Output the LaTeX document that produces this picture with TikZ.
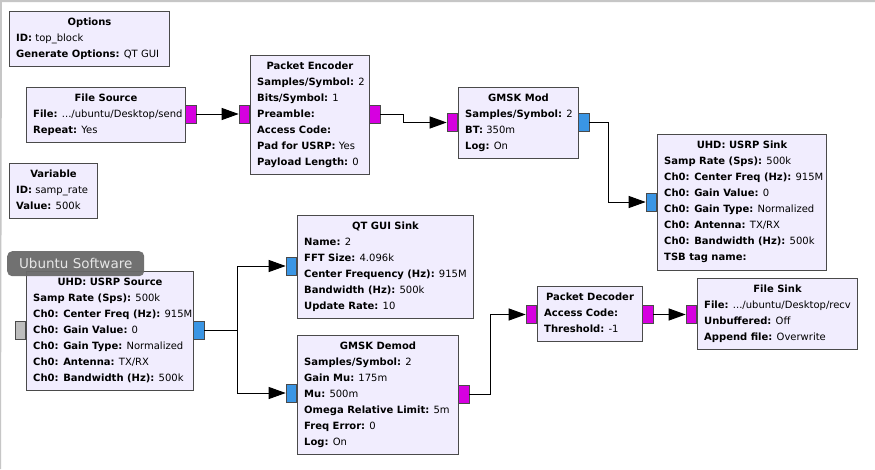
\documentclass[tikz,border=0pt]{standalone}
\usepackage{fontspec}
\setmainfont{DejaVu Sans}
\usetikzlibrary{arrows.meta,calc}
\definecolor{blkfill}{HTML}{F1EDFE}
\definecolor{blkline}{HTML}{4A4A4A}
\definecolor{pmag}{HTML}{D600E0}
\definecolor{pblue}{HTML}{3A95E4}
\definecolor{pgray}{HTML}{BDBDBD}
\definecolor{framegray}{HTML}{C6C6C6}
\definecolor{tipfill}{HTML}{6A6A6A}
\definecolor{tiptext}{HTML}{E6E6E6}
\newcount\lnum
\newcommand\grblk[6]{%
  \node[blk, minimum width=#4pt, minimum height=#5pt, anchor=north west] (#1) at (#2,#3) {};
  \node[txt, anchor=base, font=\bfseries] (#1-t) at ($(#1.north)+(0,14)$) {#6};
  \global\lnum=0 \gdef\curblk{#1}}
\newcommand\kv[2]{\global\advance\lnum by 1
  \node[txt, anchor=base west] (\curblk-\the\lnum) at ($(\curblk.north west)+(7,{14+16*\the\lnum})$) {\textbf{#1} #2};}
\begin{document}
\begin{tikzpicture}[x=1pt,y=-1pt,
  blk/.style={draw=blkline, fill=blkfill, line width=1pt, inner sep=0pt},
  txt/.style={inner sep=0pt, font=\fontsize{10}{16}\selectfont},
  port/.style={draw=blkline, line width=0.8pt, inner sep=0pt, minimum width=10.5pt, minimum height=18pt},
  wire/.style={draw=black, line width=1pt, -{Triangle[length=17pt,width=12pt]}}]
\useasboundingbox (0,0) rectangle (875,469);
\fill[white] (0,0) rectangle (875,469);
\draw[framegray, line width=2pt] (0,469) -- (1,1) -- (875,1);

% Options
\grblk{opt}{9}{11}{160}{55}{Options}
\kv{ID:}{top\_block}
\kv{Generate Options:}{QT GUI}

% File Source
\grblk{fsrc}{26}{87}{159}{55}{File Source}
\kv{File:}{.../ubuntu/Desktop/send}
\kv{Repeat:}{Yes}
\node[port, fill=pmag, anchor=west] (fsrc-o) at (185,114) {};

% Packet Encoder
\grblk{penc}{250}{55}{119}{119}{Packet Encoder}
\kv{Samples/Symbol:}{2}
\kv{Bits/Symbol:}{1}
\kv{Preamble:}{}
\kv{Access Code:}{}
\kv{Pad for USRP:}{Yes}
\kv{Payload Length:}{0}
\node[port, fill=pmag, anchor=east] (penc-i) at (250,114) {};
\node[port, fill=pmag, anchor=west] (penc-o) at (369,114) {};

% GMSK Mod
\grblk{gmod}{458}{87}{120}{71}{GMSK Mod}
\kv{Samples/Symbol:}{2}
\kv{BT:}{350m}
\kv{Log:}{On}
\node[port, fill=pmag, anchor=east] (gmod-i) at (458,122.5) {};
\node[port, fill=pblue, anchor=west] (gmod-o) at (578,122) {};

% UHD USRP Sink
\grblk{usink}{657}{134}{169}{136}{UHD: USRP Sink}
\kv{Samp Rate (Sps):}{500k}
\kv{Ch0: Center Freq (Hz):}{915M}
\kv{Ch0: Gain Value:}{0}
\kv{Ch0: Gain Type:}{Normalized}
\kv{Ch0: Antenna:}{TX/RX}
\kv{Ch0: Bandwidth (Hz):}{500k}
\kv{TSB tag name:}{}
\node[port, fill=pblue, anchor=east] (usink-i) at (657,202) {};

% Variable
\grblk{var}{9}{163}{88}{55}{Variable}
\kv{ID:}{samp\_rate}
\kv{Value:}{500k}

% UHD USRP Source
\grblk{usrc}{26}{271}{167}{119}{UHD: USRP Source}
\kv{Samp Rate (Sps):}{500k}
\kv{Ch0: Center Freq (Hz):}{915M}
\kv{Ch0: Gain Value:}{0}
\kv{Ch0: Gain Type:}{Normalized}
\kv{Ch0: Antenna:}{TX/RX}
\kv{Ch0: Bandwidth (Hz):}{500k}
\node[port, fill=pgray, anchor=east] (usrc-i) at (26,330.5) {};
\node[port, fill=pblue, anchor=west] (usrc-o) at (193,330.5) {};

% QT GUI Sink
\grblk{qsink}{297}{215}{176}{103}{QT GUI Sink}
\kv{Name:}{2}
\kv{FFT Size:}{4.096k}
\kv{Center Frequency (Hz):}{915M}
\kv{Bandwidth (Hz):}{500k}
\kv{Update Rate:}{10}
\node[port, fill=pblue, anchor=east] (qsink-i) at (297,266) {};

% GMSK Demod
\grblk{gdem}{297}{335}{161}{119}{GMSK Demod}
\kv{Samples/Symbol:}{2}
\kv{Gain Mu:}{175m}
\kv{Mu:}{500m}
\kv{Omega Relative Limit:}{5m}
\kv{Freq Error:}{0}
\kv{Log:}{On}
\node[port, fill=pblue, anchor=east] (gdem-i) at (297,393) {};
\node[port, fill=pmag, anchor=west] (gdem-o) at (458,394) {};

% Packet Decoder
\grblk{pdec}{537}{286}{105}{55}{Packet Decoder}
\kv{Access Code:}{}
\kv{Threshold:}{-1}
\node[port, fill=pmag, anchor=east] (pdec-i) at (537,314.5) {};
\node[port, fill=pmag, anchor=west] (pdec-o) at (642,314.5) {};

% File Sink
\grblk{fsink}{697}{278}{160}{71}{File Sink}
\kv{File:}{.../ubuntu/Desktop/recv}
\kv{Unbuffered:}{Off}
\kv{Append file:}{Overwrite}
\node[port, fill=pmag, anchor=east] (fsink-i) at (697,314.5) {};

% connectors
\draw[wire] (fsrc-o.east) -- (penc-i.west);
\draw[wire] (penc-o.east) -- ++(23,0) |- (gmod-i.west);
\draw[wire] (gmod-o.east) -- ++(19,0) |- (usink-i.west);
\draw[wire] (usrc-o.east) -- ++(33,0) |- (qsink-i.west);
\draw[wire] (usrc-o.east) -- ++(33,0) |- (gdem-i.west);
\draw[wire] (gdem-o.east) -- ++(21,0) |- (pdec-i.west);
\draw[wire] (pdec-o.east) -- (fsink-i.west);

% tooltip
\node[fill=tipfill, fill opacity=0.95, rounded corners=5pt, minimum width=137pt, minimum height=25pt, inner sep=0pt, anchor=north west, text=tiptext, text opacity=1, font=\fontsize{13.5}{15}\selectfont] (tip) at (7,251) {Ubuntu Software};
\end{tikzpicture}
\end{document}
